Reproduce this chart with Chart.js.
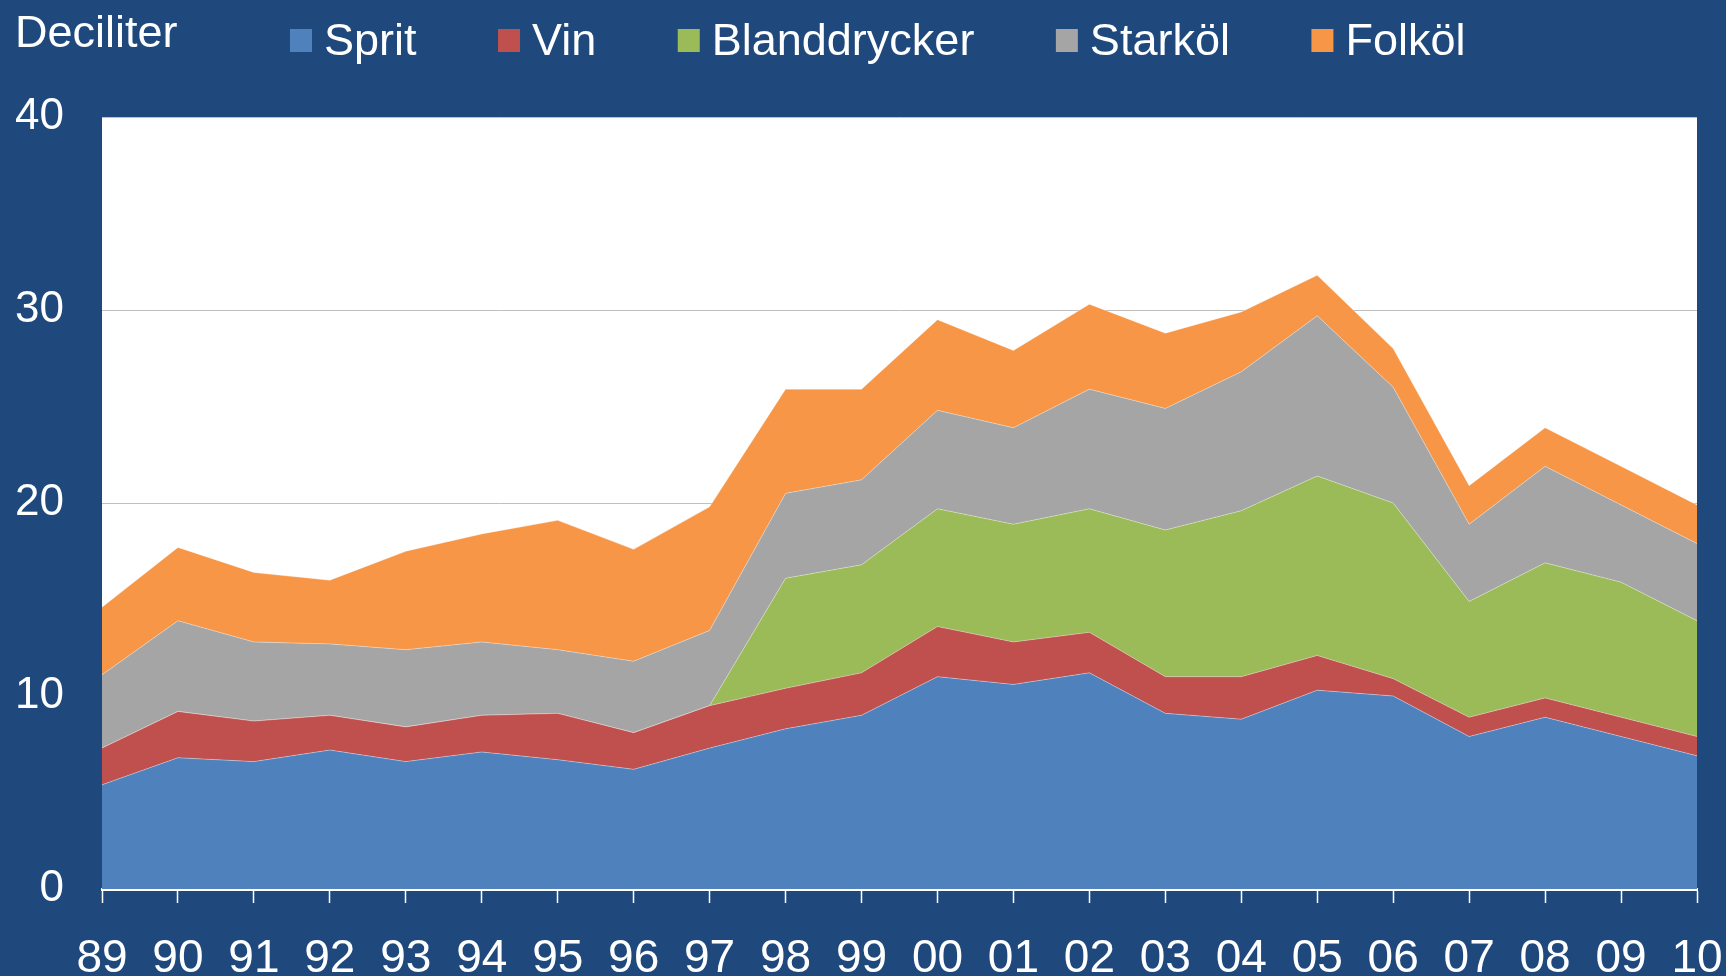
<!DOCTYPE html>
<html>
<head>
<meta charset="utf-8">
<script src="https://cdn.jsdelivr.net/npm/chart.js@4.4.1/dist/chart.umd.min.js"></script>
<style>
  html, body { margin: 0; padding: 0; background: #1F497D; }
  #wrap { width: 1726px; height: 976px; }
</style>
</head>
<body>
<div id="wrap"><canvas id="alcChart"></canvas></div>
<script>
// Alkoholkonsumtion per år, deciliter (staplade ytor)
const years = ["89", "90", "91", "92", "93", "94", "95", "96", "97", "98", "99",
               "00", "01", "02", "03", "04", "05", "06", "07", "08", "09", "10"];

const sprit   = [5.4, 6.8, 6.6, 7.2, 6.6, 7.1, 6.7, 6.2, 7.3, 8.3, 9.0, 11.0, 10.6, 11.2, 9.1, 8.8, 10.3, 10.0, 7.9, 8.9, 7.9, 6.9];
const vin     = [1.9, 2.4, 2.1, 1.8, 1.8, 1.9, 2.4, 1.9, 2.2, 2.1, 2.2, 2.6, 2.2, 2.1, 1.9, 2.2, 1.8, 0.9, 1.0, 1.0, 1.0, 1.0];
const bland   = [0, 0, 0, 0, 0, 0, 0, 0, 0, 5.7, 5.6, 6.1, 6.1, 6.4, 7.6, 8.6, 9.3, 9.1, 6.0, 7.0, 7.0, 6.0];
const starkol = [3.8, 4.7, 4.1, 3.7, 4.0, 3.8, 3.3, 3.7, 3.9, 4.4, 4.4, 5.1, 5.0, 6.2, 6.3, 7.2, 8.3, 6.0, 4.0, 5.0, 4.0, 4.0];
const folkol  = [3.5, 3.8, 3.6, 3.3, 5.1, 5.6, 6.7, 5.8, 6.4, 5.4, 4.7, 4.7, 4.0, 4.4, 3.9, 3.1, 2.1, 2.0, 2.0, 2.0, 2.0, 2.0];

const yTicks = [0, 10, 20, 30, 40];

const FONT = "'Liberation Sans', Arial, sans-serif";
const BG = "#1F497D";

function mkSet(label, data, color, idx) {
  return {
    label: label,
    data: data,
    backgroundColor: color,
    borderColor: "rgba(255,255,255,0.35)",
    borderWidth: 1,
    pointRadius: 0,
    tension: 0,
    fill: idx === 0 ? "origin" : "-1"
  };
}

// white plot area on dark blue background
const bgPlugin = {
  id: "bgPlugin",
  beforeDraw(chart) {
    const { ctx, chartArea } = chart;
    ctx.save();
    ctx.fillStyle = BG;
    ctx.fillRect(0, 0, chart.width, chart.height);
    ctx.fillStyle = "#ffffff";
    ctx.fillRect(chartArea.left, chartArea.top, chartArea.right - chartArea.left, chartArea.bottom - chartArea.top);
    ctx.restore();
  }
};

// unit label + legend row on top
const headerPlugin = {
  id: "headerPlugin",
  afterDraw(chart) {
    const ctx = chart.ctx;
    ctx.save();
    ctx.font = "45px " + FONT;
    ctx.fillStyle = "#ffffff";
    ctx.textBaseline = "middle";
    ctx.textAlign = "left";
    ctx.fillText("Deciliter", 15, 35);

    let x = 290;
    chart.data.datasets.forEach(ds => {
      ctx.fillStyle = ds.backgroundColor;
      ctx.fillRect(x, 29, 22, 23);
      ctx.fillStyle = "#ffffff";
      ctx.fillText(ds.label, x + 34, 43);
      x += 34 + ctx.measureText(ds.label).width + 81.5;
    });
    ctx.restore();
  }
};

const ctx = document.getElementById("alcChart");
new Chart(ctx, {
  type: "line",
  data: {
    labels: years,
    datasets: [
      mkSet("Sprit", sprit, "#4F81BD", 0),
      mkSet("Vin", vin, "#C0504D", 1),
      mkSet("Blanddrycker", bland, "#9BBB59", 2),
      mkSet("Starköl", starkol, "#A5A5A5", 3),
      mkSet("Folköl", folkol, "#F79646", 4)
    ]
  },
  plugins: [bgPlugin, headerPlugin],
  options: {
    responsive: true,
    maintainAspectRatio: false,
    animation: false,
    layout: {
      padding: { top: 117, left: 15, right: 29, bottom: 0 }
    },
    plugins: {
      legend: { display: false },
      tooltip: { enabled: false }
    },
    scales: {
      x: {
        offset: false,
        afterFit(scale) {
          scale.height = 87;
          scale.paddingLeft = 0;
          scale.paddingRight = 0;
        },
        grid: {
          drawOnChartArea: false,
          drawTicks: true,
          tickLength: 14,
          tickWidth: 1.5,
          tickColor: "#ffffff"
        },
        border: { display: true, color: "#ffffff", width: 3 },
        ticks: {
          color: "#ffffff",
          font: { family: FONT, size: 46, lineHeight: 1 },
          padding: 33,
          maxRotation: 0,
          autoSkip: false
        }
      },
      y: {
        stacked: true,
        min: 0,
        max: 40,
        afterFit(scale) { scale.width = 87; },
        afterBuildTicks(scale) {
          scale.ticks = yTicks.map(v => ({ value: v }));
        },
        grid: {
          color: "#BFBFBF",
          lineWidth: 1,
          drawTicks: false
        },
        border: { display: false },
        ticks: {
          color: "#ffffff",
          font: { family: FONT, size: 44 },
          padding: 38
        }
      }
    }
  }
});
</script>
</body>
</html>
